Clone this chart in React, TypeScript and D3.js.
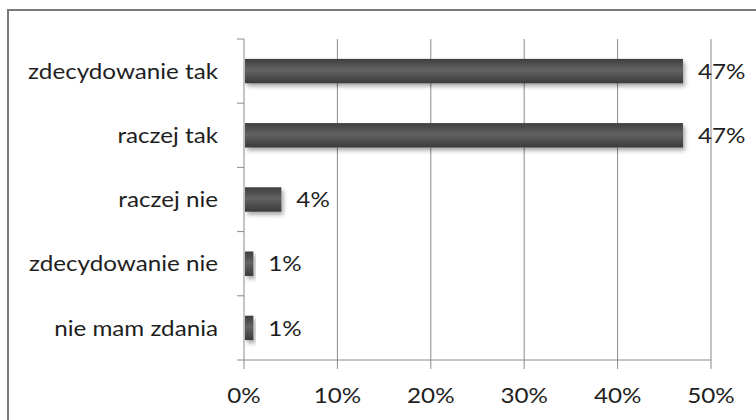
import React from "react";
import * as d3 from "d3";

const categories = [
  "zdecydowanie tak",
  "raczej tak",
  "raczej nie",
  "zdecydowanie nie",
  "nie mam zdania",
];
const values = [47, 47, 4, 1, 1];
const xTicks = [0, 10, 20, 30, 40, 50];

const W = 756;
const H = 420;
const M = { top: 39, right: 45, bottom: 60, left: 244 };

// the source picture is stretched a bit horizontally
const SX = 1.1;

const Label = ({ x, y, anchor, children }) => (
  <text
    transform={`translate(${x},${y}) scale(${SX},1)`}
    dy="0.35em"
    textAnchor={anchor}
    fontFamily="Lato, 'Open Sans', sans-serif"
    fontSize={22}
    fill="#1e1e1e"
  >
    {children}
  </text>
);

const App = () => {
  const x = d3
    .scaleLinear()
    .domain([0, 50])
    .range([M.left, W - M.right]);
  const y = d3
    .scaleBand()
    .domain(categories)
    .range([M.top, H - M.bottom])
    .paddingInner(0.62)
    .paddingOuter(0.31);
  const bandStep = y.step();
  const gridColor = "#8a8a8a";

  return (
    <svg
      width={W}
      height={H}
      style={{ position: "absolute", left: 0, top: 0, background: "#fff" }}
    >
      <defs>
        <linearGradient id="barGrad" x1="0" y1="0" x2="0" y2="1">
          <stop offset="0%" stopColor="#3d3d3d" />
          <stop offset="45%" stopColor="#636363" />
          <stop offset="100%" stopColor="#3a3a3a" />
        </linearGradient>
        <filter id="shadow" x="-10%" y="-30%" width="130%" height="190%">
          <feDropShadow dx="2" dy="3" stdDeviation="2" floodColor="#000" floodOpacity="0.35" />
        </filter>
      </defs>

      {/* outer frame */}
      <rect x={8} y={10} width={W + 10} height={H + 10} fill="none" stroke="#7a7a7a" strokeWidth={2} />

      {/* vertical gridlines */}
      {xTicks.slice(1).map((t) => (
        <line
          key={"g" + t}
          x1={x(t)}
          x2={x(t)}
          y1={M.top}
          y2={H - M.bottom}
          stroke={gridColor}
          strokeWidth={1}
        />
      ))}

      {/* bars */}
      {categories.map((c, i) => (
        <rect
          key={c}
          x={x(0) + 1}
          y={y(c)}
          width={x(values[i]) - x(0) - 1}
          height={y.bandwidth()}
          fill="url(#barGrad)"
          filter="url(#shadow)"
        />
      ))}

      {/* y axis */}
      <line x1={x(0)} x2={x(0)} y1={M.top} y2={H - M.bottom} stroke={gridColor} />
      {d3.range(categories.length + 1).map((k) => {
        const yy = M.top + k * bandStep;
        return <line key={"yt" + k} x1={x(0) - 7} x2={x(0)} y1={yy} y2={yy} stroke={gridColor} />;
      })}

      {/* x axis */}
      <line x1={x(0)} x2={x(50)} y1={H - M.bottom} y2={H - M.bottom} stroke={gridColor} />
      {xTicks.map((t) => (
        <g key={"xt" + t}>
          <line x1={x(t)} x2={x(t)} y1={H - M.bottom} y2={H - M.bottom + 9} stroke={gridColor} />
          <Label x={x(t)} y={395} anchor="middle">
            {t + "%"}
          </Label>
        </g>
      ))}

      {/* category labels */}
      {categories.map((c) => (
        <Label key={"l" + c} x={x(0) - 26} y={(y(c) as number) + y.bandwidth() / 2} anchor="end">
          {c}
        </Label>
      ))}

      {/* value labels */}
      {categories.map((c, i) => (
        <Label key={"v" + c} x={x(values[i]) + 15} y={(y(c) as number) + y.bandwidth() / 2} anchor="start">
          {values[i] + "%"}
        </Label>
      ))}
    </svg>
  );
};

export default App;
